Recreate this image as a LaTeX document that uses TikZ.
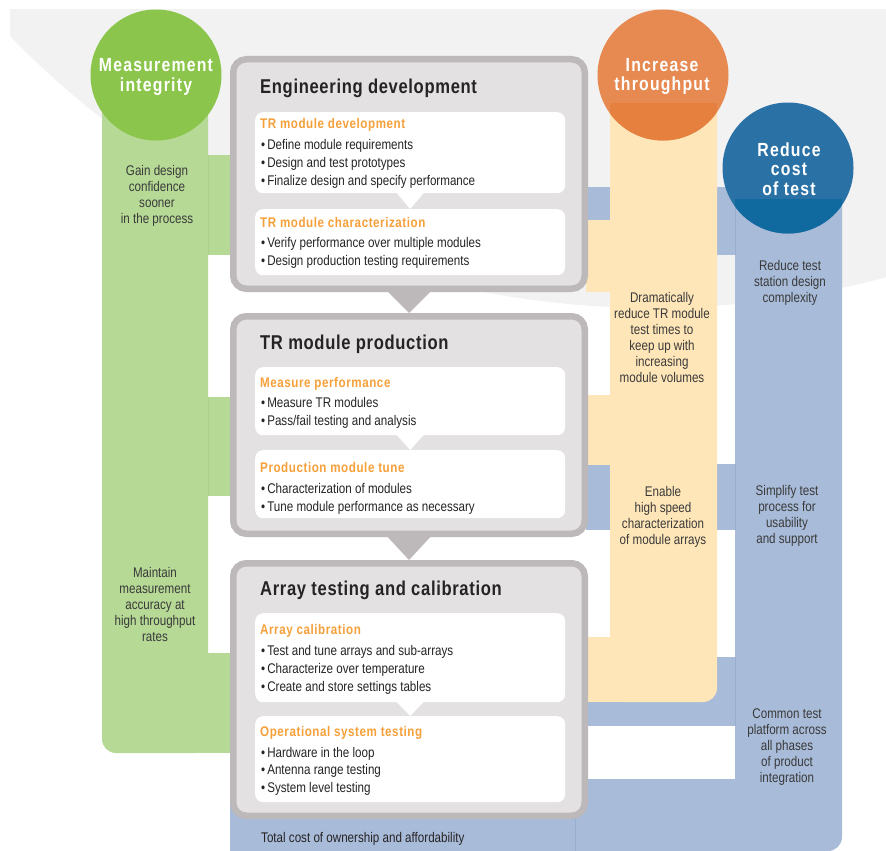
\documentclass[tikz,border=0pt]{standalone}
\usepackage{fontspec}
\setmainfont{Liberation Sans}[FakeStretch=0.83]
\newfontfamily\titlefont{Liberation Sans}[FakeStretch=0.83,LetterSpace=3.3]
\newfontfamily\subfont{Liberation Sans}[FakeStretch=0.83,LetterSpace=4]
\newfontfamily\circfont{Liberation Sans}[FakeStretch=0.83,LetterSpace=6.5]
\usetikzlibrary{calc}
\definecolor{bggray}{HTML}{F2F2F2}
\definecolor{boxline}{HTML}{BDB8BA}
\definecolor{boxfill}{HTML}{E4E1E2}
\definecolor{orangetxt}{HTML}{F6A03A}
\definecolor{darktxt}{HTML}{262324}
\definecolor{sidetxt}{HTML}{3A3A3A}
\definecolor{greenC}{HTML}{8BC54C}
\definecolor{greenL}{HTML}{B6D995}
\definecolor{greenLine}{HTML}{A8D285}
\definecolor{orangeC}{HTML}{E68A52}
\definecolor{orangeCd}{HTML}{E5803E}
\definecolor{yellowL}{HTML}{FFE6B8}
\definecolor{blueC}{HTML}{2A72A6}
\definecolor{blueCd}{HTML}{10699F}
\definecolor{blueL}{HTML}{A8BBD8}
\definecolor{blueLine}{HTML}{9AAFD0}
\tikzset{
  stage/.style={draw=boxline, fill=boxfill, line width=6.5pt, rounded corners=13pt, anchor=north west, inner sep=0pt, minimum width=351.5pt},
  subbox/.style={fill=white, rounded corners=8pt, anchor=north west, inner sep=0pt, minimum width=310pt},
  stagetitle/.style={font=\titlefont\bfseries\fontsize{20}{24}\selectfont, text=darktxt, anchor=base west, inner sep=0pt},
  subtitle/.style={font=\subfont\bfseries\fontsize{14}{17}\selectfont, text=orangetxt, anchor=base west, inner sep=0pt},
  bulletline/.style={font=\fontsize{14}{17}\selectfont, text=darktxt, anchor=base west, inner sep=0pt},
  side/.style={font=\fontsize{14}{17}\selectfont, text=sidetxt, anchor=base, inner sep=0pt},
  circtxt/.style={font=\circfont\bfseries\fontsize{19}{20}\selectfont, text=white, anchor=base, inner sep=0pt},
  bigcirc/.style={circle, inner sep=0pt, minimum size=131pt},
  seam/.style={line width=0.7pt},
}
\begin{document}
\begin{tikzpicture}[x=1pt,y=-1pt]
\useasboundingbox (0,0) rectangle (886,851);
\fill[white] (0,0) rectangle (886,851);
% light gray backdrop
\begin{scope}
  \clip (10,10) rectangle (886,851);
  \fill[bggray] (652.7,-587.6) circle[radius=895.5pt];
\end{scope}
% blue band (reduce cost of test)
\fill[blueL, rounded corners=14pt] (735,190) rectangle (842,851);
\fill[blueL] (230,779) rectangle (750,851);
\fill[blueL] (586,657) rectangle (736,726);
\fill[blueL] (586,187) rectangle (736,255);
\fill[blueL] (586,464) rectangle (736,530);
\draw[seam, blueLine] (735,187) -- (735,255);
\draw[seam, blueLine] (735,464) -- (735,530);
\draw[seam, blueLine] (735,657) -- (735,726);
\draw[seam, blueLine] (575,815) -- (575,851);
% yellow band (increase throughput)
\fill[yellowL, rounded corners=14pt] (610,100) rectangle (717,702);
\fill[yellowL] (586,220) rectangle (611,292);
\fill[yellowL] (586,395) rectangle (611,465);
\fill[yellowL] (586,637) rectangle (625,702);
% green band (measurement integrity)
\fill[greenL, rounded corners=14pt] (102,100) rectangle (208,753);
\fill[greenL] (207,155) rectangle (232,255);
\fill[greenL] (207,397) rectangle (232,496);
\fill[greenL] (190,653) rectangle (232,753);
\draw[seam, greenLine] (208,155) -- (208,255);
\draw[seam, greenLine] (208,397) -- (208,496);
% circles
\node[bigcirc, fill=greenC] (mic) at (156,75) {};
\node[bigcirc, fill=orangeC] (itc) at (663,75) {};
\node[bigcirc, fill=blueC] (rcc) at (788,168) {};
\begin{scope}
  \clip (itc.center) circle[radius=65.5pt];
  \fill[orangeCd] (610,103) rectangle (717,145);
\end{scope}
\begin{scope}
  \clip (rcc.center) circle[radius=65.5pt];
  \fill[blueCd] (735,199) rectangle (842,240);
\end{scope}
\node[circtxt] (mic1) at (156,72) {Measurement};
\node[circtxt] (mic2) at (156,92) {integrity};
\node[circtxt] (itc1) at (662,71) {Increase};
\node[circtxt] (itc2) at (662,90) {throughput};
\node[circtxt] (rcc1) at (789,156) {Reduce};
\node[circtxt] (rcc2) at (789,175) {cost};
\node[circtxt] (rcc3) at (789,195) {of test};
% stage boxes
\node[stage, minimum height=229.5pt] (b1) at (230,56) {};
\node[stage, minimum height=217.5pt] (b2) at (230,313) {};
\node[stage, minimum height=252.5pt] (b3) at (230,560) {};
\fill[boxline] ($(b1.south)+(-25,-4)$) -- ($(b1.south)+(25,-4)$) -- (b2.north) -- cycle;
\fill[boxline] ($(b2.south)+(-25,-4)$) -- ($(b2.south)+(25,-4)$) -- (b3.north) -- cycle;
% sub boxes
\node[subbox, minimum height=81pt] (s11) at (255,112) {};
\node[subbox, minimum height=66pt] (s12) at (255,209) {};
\node[subbox, minimum height=68pt] (s21) at (255,367) {};
\node[subbox, minimum height=68pt] (s22) at (255,450) {};
\node[subbox, minimum height=89pt] (s31) at (255,613) {};
\node[subbox, minimum height=86pt] (s32) at (255,716) {};
\foreach \a/\b in {s11/s12, s21/s22, s31/s32}
  \fill[white] ($(\a.south)+(-14,-1)$) -- ($(\a.south)+(14,-1)$) -- (\b.north) -- cycle;
% titles
\node[stagetitle] (b1t) at (260,93) {Engineering development};
\node[stagetitle] (b2t) at (260,349) {TR module production};
\node[stagetitle] (b3t) at (260,595) {Array testing and calibration};
\node[subtitle] (s11t) at (260,128) {TR module development};
\node[subtitle] (s12t) at (260,227) {TR module characterization};
\node[subtitle] (s21t) at (260,387) {Measure performance};
\node[subtitle] (s22t) at (260,472) {Production module tune};
\node[subtitle] (s31t) at (260,634) {Array calibration};
\node[subtitle] (s32t) at (260,736) {Operational system testing};
% bullets
\foreach \t [count=\i] in {Define module requirements, Design and test prototypes, Finalize design and specify performance}
  \node[bulletline, name=s11b\i] at (261,{149+18*(\i-1)}) {•\hspace{2pt}\t};
\foreach \t [count=\i] in {Verify performance over multiple modules, Design production testing requirements}
  \node[bulletline, name=s12b\i] at (261,{247+18*(\i-1)}) {•\hspace{2pt}\t};
\foreach \t [count=\i] in {Measure TR modules, Pass/fail testing and analysis}
  \node[bulletline, name=s21b\i] at (261,{407+18.5*(\i-1)}) {•\hspace{2pt}\t};
\foreach \t [count=\i] in {Characterization of modules, Tune module performance as necessary}
  \node[bulletline, name=s22b\i] at (261,{493+18*(\i-1)}) {•\hspace{2pt}\t};
\foreach \t [count=\i] in {Test and tune arrays and sub-arrays, Characterize over temperature, Create and store settings tables}
  \node[bulletline, name=s31b\i] at (261,{655+18*(\i-1)}) {•\hspace{2pt}\t};
\foreach \t [count=\i] in {Hardware in the loop, Antenna range testing, System level testing}
  \node[bulletline, name=s32b\i] at (261,{757+17.5*(\i-1)}) {•\hspace{2pt}\t};
\node[bulletline] (tco) at (261,842) {Total cost of ownership and affordability};
% side texts
\foreach \t [count=\i] in {Gain design, confidence, sooner, in the process}
  \node[side, name=g1l\i] at (157,{175+16*(\i-1)}) {\t};
\foreach \t [count=\i] in {Maintain, measurement, accuracy at, high throughput, rates}
  \node[side, name=g2l\i] at (155,{577+16*(\i-1)}) {\t};
\foreach \t [count=\i] in {Dramatically, reduce TR module, test times to, keep up with, increasing, module volumes}
  \node[side, name=y1l\i] at (662,{302+16*(\i-1)}) {\t};
\foreach \t [count=\i] in {Enable, high speed, characterization, of module arrays}
  \node[side, name=y2l\i] at (663,{496+16*(\i-1)}) {\t};
\foreach \t [count=\i] in {Reduce test, station design, complexity}
  \node[side, name=c1l\i] at (790,{270+16*(\i-1)}) {\t};
\foreach \t [count=\i] in {Simplify test, process for, usability, and support}
  \node[side, name=c2l\i] at (787,{495+16*(\i-1)}) {\t};
\foreach \t [count=\i] in {Common test, platform across, all phases, of product, integration}
  \node[side, name=c3l\i] at (787,{718+16*(\i-1)}) {\t};
\end{tikzpicture}
\end{document}
